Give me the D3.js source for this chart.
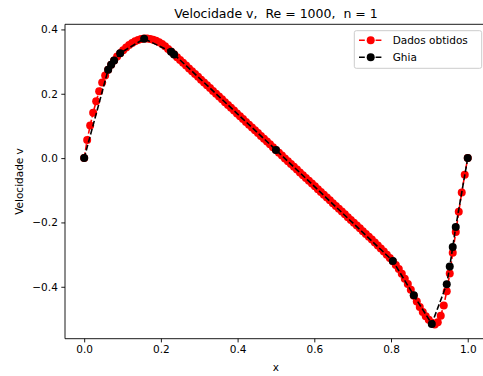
<!DOCTYPE html>
<meta charset="utf-8">
<head>
  <style>
    body { margin: 0; background: #ffffff; }
    svg { display: block; font-family: "DejaVu Sans", sans-serif; }
  </style>
</head>
<body>
  <div class="main"></div>

  <script src="https://d3js.org/d3.v7.min.js"></script>
  <script>
    // malha 129 pontos (x) e perfil v obtido na linha horizontal central
    var xGrid = [
      0.0000, 0.0078, 0.0156, 0.0234, 0.0313, 0.0391, 0.0469, 0.0547,
      0.0625, 0.0703, 0.0781, 0.0859, 0.0938, 0.1016, 0.1094, 0.1172,
      0.1250, 0.1328, 0.1406, 0.1484, 0.1563, 0.1641, 0.1719, 0.1797,
      0.1875, 0.1953, 0.2031, 0.2109, 0.2188, 0.2266, 0.2344, 0.2422,
      0.2500, 0.2578, 0.2656, 0.2734, 0.2813, 0.2891, 0.2969, 0.3047,
      0.3125, 0.3203, 0.3281, 0.3359, 0.3438, 0.3516, 0.3594, 0.3672,
      0.3750, 0.3828, 0.3906, 0.3984, 0.4063, 0.4141, 0.4219, 0.4297,
      0.4375, 0.4453, 0.4531, 0.4609, 0.4688, 0.4766, 0.4844, 0.4922,
      0.5000, 0.5078, 0.5156, 0.5234, 0.5313, 0.5391, 0.5469, 0.5547,
      0.5625, 0.5703, 0.5781, 0.5859, 0.5938, 0.6016, 0.6094, 0.6172,
      0.6250, 0.6328, 0.6406, 0.6484, 0.6563, 0.6641, 0.6719, 0.6797,
      0.6875, 0.6953, 0.7031, 0.7109, 0.7188, 0.7266, 0.7344, 0.7422,
      0.7500, 0.7578, 0.7656, 0.7734, 0.7813, 0.7891, 0.7969, 0.8047,
      0.8125, 0.8203, 0.8281, 0.8359, 0.8438, 0.8516, 0.8594, 0.8672,
      0.8750, 0.8828, 0.8906, 0.8984, 0.9063, 0.9141, 0.9219, 0.9297,
      0.9375, 0.9453, 0.9531, 0.9609, 0.9688, 0.9766, 0.9844, 0.9922,
      1.0000
    ];
    var vObtidos = [
      0, 0.056, 0.101, 0.141, 0.177, 0.208, 0.235, 0.257,
      0.275, 0.290, 0.3035, 0.3155, 0.326, 0.3355, 0.344, 0.3515,
      0.358, 0.3635, 0.3675, 0.3705, 0.3715, 0.3715, 0.3705, 0.368,
      0.3645, 0.360, 0.3545, 0.348, 0.3395, 0.331, 0.3225, 0.3138,
      0.3050, 0.2963, 0.2875, 0.2788, 0.2700, 0.2613, 0.2526, 0.2438,
      0.2351, 0.2263, 0.2176, 0.2088, 0.2001, 0.1913, 0.1826, 0.1739,
      0.1651, 0.1564, 0.1476, 0.1389, 0.1301, 0.1214, 0.1126, 0.1039,
      0.0951, 0.0864, 0.0777, 0.0689, 0.0602, 0.0514, 0.0427, 0.0339,
      0.0252, 0.0165, 0.0078, -0.0009, -0.0096, -0.0183, -0.0270, -0.0357,
      -0.0444, -0.0531, -0.0618, -0.0705, -0.0792, -0.0879, -0.0966, -0.1053,
      -0.1140, -0.1227, -0.1314, -0.1401, -0.1488, -0.1575, -0.1662, -0.1749,
      -0.1836, -0.1923, -0.2010, -0.2097, -0.2184, -0.2271, -0.2358, -0.2445,
      -0.2534, -0.2624, -0.2716, -0.2810, -0.2906, -0.3004, -0.3104, -0.3206,
      -0.3321, -0.3451, -0.3596, -0.3751, -0.3916, -0.4091, -0.4276, -0.4456,
      -0.4626, -0.4781, -0.4916, -0.5026, -0.5116, -0.5170, -0.5100, -0.4900,
      -0.4580, -0.4140, -0.3590, -0.2940, -0.2300, -0.1670, -0.1070, -0.0520,
      0
    ];

    // Ghia et al. (1982), Re = 1000
    var xGhia = [1.0000, 0.9688, 0.9609, 0.9531, 0.9453, 0.9063, 0.8594, 0.8047,
      0.5000, 0.2344, 0.2266, 0.1563, 0.0938, 0.0781, 0.0703, 0.0625, 0.0000];
    var vGhia = [0.00000, -0.21388, -0.27669, -0.33714, -0.39188, -0.51550, -0.42665, -0.31966,
      0.02526, 0.32235, 0.33075, 0.37095, 0.32627, 0.30353, 0.29012, 0.27485, 0.00000];

    var xTicks = [0.0, 0.2, 0.4, 0.6, 0.8, 1.0];
    var yTicks = [-0.4, -0.2, 0.0, 0.2, 0.4];
    var seriesNames = ["Dados obtidos", "Ghia"];

    var width = 483, height = 376;
    // area dos eixos (a borda direita fica fora da figura, como no original)
    var mLeft = 65, mTop = 24.3, mRight = 486.9, mBottom = 338.7;

    var svg = d3.select(".main").append("svg")
      .attr("width", width)
      .attr("height", height);

    var obtidos = xGrid.map(function (x, i) { return [x, vObtidos[i]]; });
    var ghia = xGhia.map(function (x, i) { return [x, vGhia[i]]; });

    // margens de 5% como no matplotlib
    var allV = vObtidos.concat(vGhia);
    var vMin = d3.min(allV), vMax = d3.max(allV);
    var vPad = (vMax - vMin) * 0.05;

    var x = d3.scaleLinear().domain([-0.05, 1.05]).range([mLeft, mRight]);
    var y = d3.scaleLinear().domain([vMin - vPad, vMax + vPad]).range([mBottom, mTop]);

    var fmt = function (d) { return d3.format(".1f")(d).replace("-", "\u2212"); };

    // eixos
    var xAxis = d3.axisBottom(x).tickValues(xTicks).tickFormat(fmt).tickSize(3.7).tickPadding(3.5);
    var yAxis = d3.axisLeft(y).tickValues(yTicks).tickFormat(fmt).tickSize(3.7).tickPadding(3.5);

    var gx = svg.append("g").attr("transform", "translate(0," + mBottom + ")").call(xAxis);
    var gy = svg.append("g").attr("transform", "translate(" + mLeft + ",0)").call(yAxis);
    [gx, gy].forEach(function (g) {
      g.select(".domain").remove();
      g.selectAll("line").attr("stroke", "#000").attr("stroke-width", 0.9);
      g.selectAll("text").attr("fill", "#000")
        .style("font-size", "10.5px")
        .style("font-family", "DejaVu Sans");
    });

    // linhas + marcadores
    var line = d3.line()
      .x(function (d) { return x(d[0]); })
      .y(function (d) { return y(d[1]); });

    var plot = svg.append("g");
    var series = [
      { data: obtidos, color: "#ff0000" },
      { data: ghia, color: "#000000" }
    ];
    series.forEach(function (s) {
      plot.append("path")
        .attr("d", line(s.data))
        .attr("fill", "none")
        .attr("stroke", s.color)
        .attr("stroke-width", 1.6)
        .attr("stroke-dasharray", "5.8,2.5");
      plot.selectAll(null)
        .data(s.data)
        .enter().append("circle")
        .attr("cx", function (d) { return x(d[0]); })
        .attr("cy", function (d) { return y(d[1]); })
        .attr("r", 4)
        .attr("fill", s.color);
    });

    // moldura
    svg.append("line").attr("x1", mLeft).attr("x2", mRight).attr("y1", mTop).attr("y2", mTop)
      .attr("stroke", "#000").attr("stroke-width", 0.9);
    svg.append("line").attr("x1", mLeft).attr("x2", mRight).attr("y1", mBottom).attr("y2", mBottom)
      .attr("stroke", "#000").attr("stroke-width", 0.9);
    svg.append("line").attr("x1", mLeft).attr("x2", mLeft).attr("y1", mTop).attr("y2", mBottom)
      .attr("stroke", "#000").attr("stroke-width", 0.9);

    // título e rótulos
    svg.append("text")
      .attr("x", (mLeft + mRight) / 2).attr("y", 18)
      .attr("text-anchor", "middle")
      .style("font-size", "12.5px")
      .style("white-space", "pre")
      .text("Velocidade v,  Re = 1000,  n = 1");

    svg.append("text")
      .attr("x", (mLeft + mRight) / 2).attr("y", 371)
      .attr("text-anchor", "middle")
      .style("font-size", "10.5px")
      .text("x");

    svg.append("text")
      .attr("transform", "translate(23," + ((mTop + mBottom) / 2) + ") rotate(-90)")
      .attr("text-anchor", "middle")
      .style("font-size", "10.5px")
      .text("Velocidade v");

    // legenda
    var legend = svg.append("g");
    legend.append("rect")
      .attr("x", 354.3).attr("y", 30.7)
      .attr("width", 127.4).attr("height", 37.6)
      .attr("rx", 2).attr("ry", 2)
      .attr("fill", "#ffffff").attr("fill-opacity", 0.8)
      .attr("stroke", "#cccccc").attr("stroke-width", 1);

    seriesNames.forEach(function (name, i) {
      var ly = 40.3 + i * 17;
      legend.append("line")
        .attr("x1", 359).attr("x2", 382).attr("y1", ly).attr("y2", ly)
        .attr("stroke", series[i].color).attr("stroke-width", 1.6)
        .attr("stroke-dasharray", "5.8,2.5");
      legend.append("circle")
        .attr("cx", 370.7).attr("cy", ly).attr("r", 4)
        .attr("fill", series[i].color);
      legend.append("text")
        .attr("x", 392.7).attr("y", ly).attr("dy", "0.36em")
        .style("font-size", "10.5px")
        .text(name);
    });
  </script>
</body>
